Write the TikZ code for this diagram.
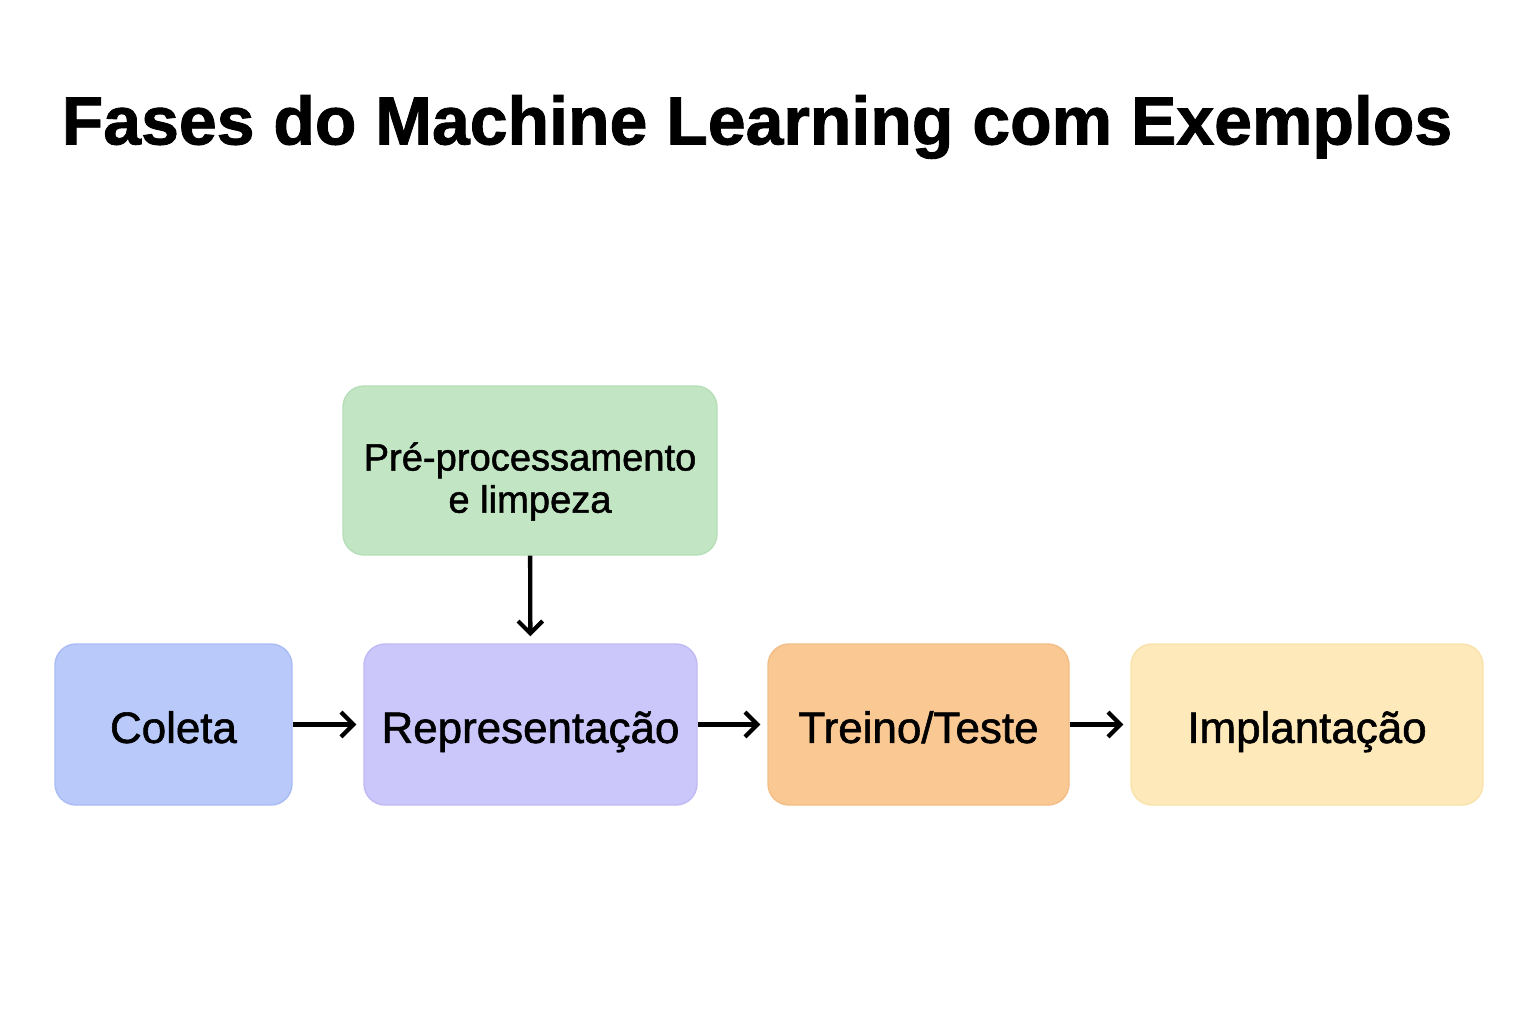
\documentclass[tikz,border=0pt]{standalone}
\usepackage{fontspec}
\setmainfont{Liberation Sans}[FakeBold=1.3]
\usetikzlibrary{arrows.meta}
\definecolor{coletablue}{RGB}{184, 201, 250}
\definecolor{coletaline}{RGB}{170, 188, 245}
\definecolor{reprlilac}{RGB}{204, 199, 250}
\definecolor{reprline}{RGB}{192, 186, 244}
\definecolor{treinoorange}{RGB}{249, 200, 147}
\definecolor{treinoline}{RGB}{243, 190, 134}
\definecolor{implyellow}{RGB}{253, 233, 185}
\definecolor{implline}{RGB}{250, 226, 172}
\definecolor{pregreen}{RGB}{194, 229, 196}
\definecolor{preline}{RGB}{182, 222, 185}

\begin{document}
\begin{tikzpicture}[x=0.02cm, y=-0.02cm,
    phase/.style={rounded corners=12pt, line width=0.8pt, minimum height=161*0.02cm,
                  inner sep=0pt, align=center, text height=21pt, text depth=0pt,
                  font=\fontsize{25}{28}\selectfont},
    flow/.style={-{Straight Barb[length=7pt, width=14pt, line width=2.4pt]}, line width=2.5pt, shorten >=4pt}]
            \fill[white] (0,0) rectangle (1536,1024);
            \useasboundingbox (0,0) rectangle (1536,1024);
            \node[font=\fontsize{38.7}{44}\selectfont\bfseries] (title) at (757,127) {Fases do Machine Learning com Exemplos};
            \node[phase, fill=coletablue,   draw=coletaline,   minimum width=237*0.02cm] (coleta) at ( 173.5,724.5) {Coleta};
            \node[phase, fill=reprlilac,    draw=reprline,     minimum width=333*0.02cm] (repr)   at ( 530.5,724.5) {Representação};
            \node[phase, fill=treinoorange, draw=treinoline,   minimum width=301*0.02cm] (treino) at ( 918.5,724.5) {Treino/Teste};
            \node[phase, fill=implyellow,   draw=implline,     minimum width=352*0.02cm] (impl)   at (1307.0,724.5) {Implantação};
            \node[phase, fill=pregreen,     draw=preline,      minimum width=374*0.02cm, minimum height=169*0.02cm,
                  text height=48pt, font=\fontsize{21.7}{24}\selectfont] (pre) at (530,470.5) {Pré-processamento\\e limpeza};
            \draw[flow] (coleta) -- (repr);
            \draw[flow] (repr) -- (treino);
            \draw[flow] (treino) -- (impl);
            \draw[flow] (pre) -- (repr);
\end{tikzpicture}
\end{document}
